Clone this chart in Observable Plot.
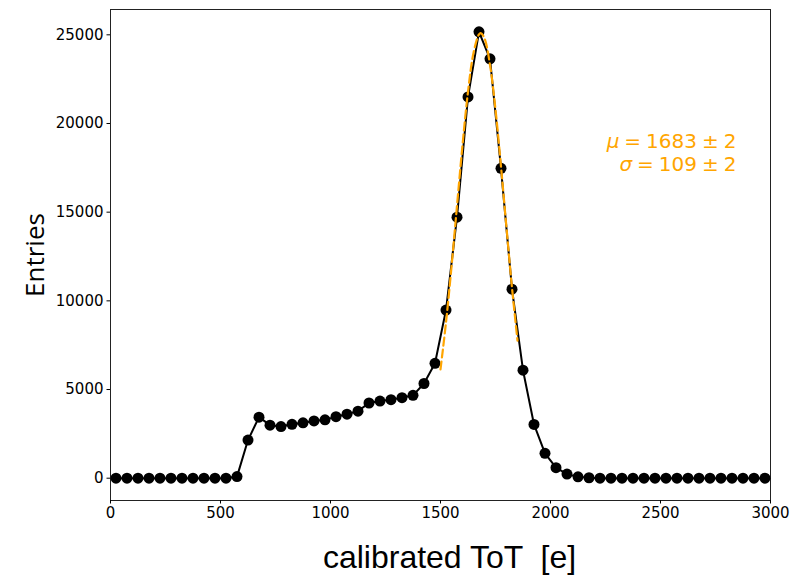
<!DOCTYPE html>
<html>
<head>
<meta charset="utf-8">
<script src="https://cdn.jsdelivr.net/npm/d3@7"></script>
<script src="https://cdn.jsdelivr.net/npm/@observablehq/plot@0.6"></script>
<style>
  html, body { margin: 0; padding: 0; background: #fff; }
  svg text { white-space: pre; }
</style>
</head>
<body>
<div id="chart"></div>
<script>
// Histogram bin centres (calibrated ToT, e)
const binCenters = [25, 75, 125, 175, 225, 275, 325, 375, 425, 475, 525, 575, 625, 675, 725, 775, 825, 875, 925, 975,
  1025, 1075, 1125, 1175, 1225, 1275, 1325, 1375, 1425, 1475, 1525, 1575, 1625, 1675, 1725, 1775, 1825, 1875, 1925, 1975,
  2025, 2075, 2125, 2175, 2225, 2275, 2325, 2375, 2425, 2475, 2525, 2575, 2625, 2675, 2725, 2775, 2825, 2875, 2925, 2975];
// Entries per bin
const entries = [0, 0, 0, 0, 0, 0, 0, 0, 0, 0, 0, 90, 2150, 3440, 2990, 2910, 3040, 3120, 3230, 3290,
  3470, 3610, 3780, 4240, 4350, 4430, 4540, 4670, 5340, 6480, 9480, 14720, 21500, 25170, 23650, 17470, 10660, 6090, 3030, 1400,
  590, 230, 75, 25, 0, 0, 0, 0, 0, 0, 0, 0, 0, 0, 0, 0, 0, 0, 0, 0];
// Gaussian fit curve
const fitX = [1500, 1525, 1550, 1575, 1600, 1625, 1650, 1675, 1683, 1700, 1725, 1750, 1775, 1800, 1825, 1850];
const fitY = [6140, 8780, 11920, 15360, 18780, 21790, 23980, 25030, 25100, 24800, 23300, 20780, 17580, 14110, 10740, 7760];
// Ticks and labels
const xTicks = [0, 500, 1000, 1500, 2000, 2500, 3000];
const yTicks = [0, 5000, 10000, 15000, 20000, 25000];
const xLabel = "calibrated ToT  [e]";
const yLabel = "Entries";
const fitLines = ["μ\u2005=\u20051683\u2005±\u20052", "σ\u2005=\u2005109\u2005±\u20052"];

const hist = binCenters.map((x, i) => ({x, y: entries[i]}));
const fit = fitX.map((x, i) => ({x, y: fitY[i]}));
const orange = "#FFA500";

const chart = Plot.plot({
  width: 811,
  height: 577,
  marginLeft: 110,
  marginRight: 41,
  marginTop: 9,
  marginBottom: 77,
  style: {fontFamily: "DejaVu Sans", fontSize: "15px", color: "#000", background: "#fff"},
  x: {domain: [0, 3000]},
  y: {domain: [-1258, 26428]},
  marks: [
    Plot.frame({stroke: "#222", strokeWidth: 1}),
    Plot.axisX({ticks: xTicks, tickSize: 3.5, tickPadding: 3.5, label: null, tickFormat: d => String(d), fontSize: 15}),
    Plot.axisY({ticks: yTicks, tickSize: 3.5, tickPadding: 3.5, label: null, tickFormat: d => String(d), fontSize: 15}),
    Plot.line(hist, {x: "x", y: "y", stroke: "#000", strokeWidth: 2}),
    Plot.dot(hist, {x: "x", y: "y", r: 5.5, fill: "#000", stroke: "none"}),
    Plot.line(fit, {x: "x", y: "y", stroke: orange, strokeWidth: 2.2, strokeDasharray: "8,4", curve: "catmull-rom"}),
    Plot.text([yLabel], {frameAnchor: "left", dx: -75, rotate: -90, textAnchor: "middle", lineAnchor: "middle",
      fontSize: 26, fontFamily: "Open Sans", fill: "#000"}),
    Plot.text([xLabel], {frameAnchor: "bottom", dx: 9, dy: 67, textAnchor: "middle", lineAnchor: "bottom",
      fontSize: 32, fontFamily: "Liberation Sans", fill: "#000"}),
    Plot.text([fitLines[0]], {frameAnchor: "top-right", dx: -34, dy: 138, textAnchor: "end", lineAnchor: "bottom",
      fontSize: 20, fontFamily: "DejaVu Sans", fill: orange}),
    Plot.text([fitLines[1]], {frameAnchor: "top-right", dx: -34, dy: 161, textAnchor: "end", lineAnchor: "bottom",
      fontSize: 20, fontFamily: "DejaVu Sans", fill: orange})
  ]
});

// italicise the Greek symbols in the fit annotation
chart.querySelectorAll("text").forEach(t => {
  const s = t.textContent;
  if (s === fitLines[0] || s === fitLines[1]) {
    const ns = "http://www.w3.org/2000/svg";
    t.textContent = "";
    const g = document.createElementNS(ns, "tspan");
    g.setAttribute("font-style", "italic");
    g.textContent = s[0];
    t.appendChild(g);
    t.appendChild(document.createTextNode(s.slice(1)));
  }
});

document.getElementById("chart").appendChild(chart);
</script>
</body>
</html>
